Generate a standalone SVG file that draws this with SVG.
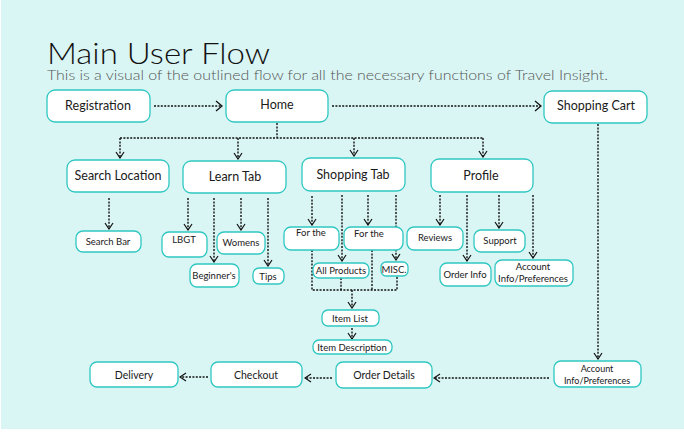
<svg xmlns="http://www.w3.org/2000/svg" width="684" height="432" viewBox="0 0 684 432">
<defs>
<style>
.n rect{fill:#fff;stroke:#2fc7c1;stroke-width:1.3}
.n text{font-family:Lato,"Noto Sans",sans-serif;fill:#1a1a1a;text-anchor:middle}
.b text{font-size:12.5px}
.s text{font-size:9.5px}
.c line,.c path{stroke:#111;stroke-width:1.4;stroke-dasharray:2 1.4;fill:none}
</style>
<marker id="ab" viewBox="0 0 8 12" markerWidth="8" markerHeight="12" refX="7" refY="6" orient="auto" markerUnits="userSpaceOnUse"><path d="M1,1 L7,6 L1,11" fill="none" stroke="#111" stroke-width="1.3"/></marker>
<marker id="as" viewBox="0 0 8 10" markerWidth="8" markerHeight="10" refX="7" refY="5" orient="auto" markerUnits="userSpaceOnUse"><path d="M1,1 L7,5 L1,9" fill="none" stroke="#111" stroke-width="1.2"/></marker>
</defs>
<rect x="0" y="0" width="684" height="432" fill="#fff"/>
<rect x="1" y="0" width="683" height="429" fill="#d9f5f4"/>
<text x="47" y="64" font-family="Lato,'Noto Sans',sans-serif" font-weight="300" font-size="29" fill="#111" textLength="223" lengthAdjust="spacingAndGlyphs">Main User Flow</text>
<text x="47" y="80" font-family="Lato,'Noto Sans',sans-serif" font-weight="300" font-size="13.5" fill="#555" textLength="561" lengthAdjust="spacingAndGlyphs">This is a visual of the outlined flow for all the necessary functions of Travel Insight.</text>

<g class="c">
<line x1="154" y1="106" x2="222" y2="106" marker-end="url(#ab)"/>
<line x1="332" y1="106" x2="541" y2="106" marker-end="url(#ab)"/>
<path d="M277,123 V138 M120,138 H483"/>
<line x1="120" y1="138" x2="120" y2="158" marker-end="url(#as)"/>
<line x1="238" y1="138" x2="238" y2="159" marker-end="url(#as)"/>
<line x1="354" y1="138" x2="354" y2="156" marker-end="url(#as)"/>
<line x1="483" y1="138" x2="483" y2="157" marker-end="url(#as)"/>
<line x1="109" y1="198" x2="109" y2="229" marker-end="url(#as)"/>
<line x1="188" y1="198" x2="188" y2="230" marker-end="url(#as)"/>
<line x1="214" y1="198" x2="214" y2="262" marker-end="url(#as)"/>
<line x1="241" y1="198" x2="241" y2="230" marker-end="url(#as)"/>
<line x1="268" y1="198" x2="268" y2="266" marker-end="url(#as)"/>
<line x1="312" y1="196" x2="312" y2="225" marker-end="url(#as)"/>
<line x1="342" y1="195" x2="342" y2="261" marker-end="url(#as)"/>
<line x1="368" y1="195" x2="368" y2="225" marker-end="url(#as)"/>
<line x1="396" y1="195" x2="396" y2="260" marker-end="url(#as)"/>
<path d="M312,250 V290 H397 V276 M341,278 V290 M372,250 V290"/>
<line x1="352" y1="290" x2="352" y2="308" marker-end="url(#as)"/>
<line x1="352" y1="328" x2="352" y2="339" marker-end="url(#as)"/>
<line x1="440" y1="195" x2="440" y2="225" marker-end="url(#as)"/>
<line x1="467" y1="195" x2="467" y2="261" marker-end="url(#as)"/>
<line x1="499" y1="195" x2="499" y2="228" marker-end="url(#as)"/>
<line x1="533" y1="195" x2="533" y2="258" marker-end="url(#as)"/>
<line x1="598" y1="124" x2="598" y2="359" marker-end="url(#as)"/>
<line x1="549" y1="378" x2="434" y2="378" marker-end="url(#as)"/>
<line x1="332" y1="378" x2="305" y2="378" marker-end="url(#as)"/>
<line x1="208" y1="377" x2="180" y2="377" marker-end="url(#as)"/>
</g>

<g id="registration" class="n b"><rect x="47" y="90" width="103" height="32" rx="8"/><text x="98" y="110" font-size="12">Registration</text></g>
<g id="home" class="n b"><rect x="226" y="90" width="102" height="32" rx="8"/><text x="277" y="109">Home</text></g>
<g id="shopping-cart" class="n b"><rect x="544" y="91" width="103" height="32" rx="8"/><text x="596" y="110">Shopping Cart</text></g>
<g id="search-location" class="n b"><rect x="67" y="160" width="102" height="32" rx="8"/><text x="118" y="180">Search Location</text></g>
<g id="learn-tab" class="n b"><rect x="183" y="161" width="103" height="32" rx="8"/><text x="235" y="181">Learn Tab</text></g>
<g id="shopping-tab" class="n b"><rect x="302" y="158" width="103" height="33" rx="8"/><text x="353" y="179">Shopping Tab</text></g>
<g id="profile" class="n b"><rect x="431" y="159" width="102" height="33" rx="8"/><text x="481" y="180">Profile</text></g>

<g id="search-bar" class="n s"><rect x="76" y="231" width="65" height="21" rx="7"/><text x="108" y="245">Search Bar</text></g>
<g id="lbgt" class="n s"><rect x="162" y="232" width="45" height="25" rx="7"/><text x="184" y="243">LBGT</text></g>
<g id="womens" class="n s"><rect x="217" y="232" width="48" height="22" rx="7"/><text x="241" y="246">Womens</text></g>
<g id="beginners" class="n s"><rect x="190" y="264" width="49" height="23" rx="7"/><text x="214" y="279">Beginner's</text></g>
<g id="tips" class="n s"><rect x="253" y="268" width="31" height="16" rx="6"/><text x="268" y="280">Tips</text></g>

<g id="for-the-1" class="n s"><rect x="284" y="227" width="55" height="23" rx="7"/><text x="311" y="236">For the</text></g>
<g id="for-the-2" class="n s"><rect x="344" y="227" width="59" height="23" rx="7"/><text x="369" y="237">For the</text></g>
<g id="all-products" class="n s"><rect x="313" y="263" width="56" height="15" rx="6"/><text x="341" y="274" font-size="9">All Products</text></g>
<g id="misc" class="n s"><rect x="381" y="262" width="27" height="14" rx="5"/><text x="394" y="273" font-size="8.5">MISC.</text></g>
<g id="item-list" class="n s"><rect x="322" y="310" width="57" height="16" rx="6"/><text x="350" y="321.5">Item List</text></g>
<g id="item-description" class="n s"><rect x="313" y="340" width="79" height="14" rx="6"/><text x="352" y="350.5" font-size="9">Item Description</text></g>

<g id="reviews" class="n s"><rect x="407" y="227" width="56" height="23" rx="7"/><text x="435" y="241">Reviews</text></g>
<g id="order-info" class="n s"><rect x="440" y="263" width="51" height="23" rx="7"/><text x="465" y="278">Order Info</text></g>
<g id="support" class="n s"><rect x="474" y="230" width="51" height="22" rx="7"/><text x="500" y="244">Support</text></g>
<g id="account-info-profile" class="n s"><rect x="495" y="260" width="78" height="26" rx="7"/><text x="533" y="270" font-size="9">Account</text><text x="533" y="282" font-size="9">Info/Preferences</text></g>

<g id="delivery" class="n"><rect x="90" y="362" width="88" height="25" rx="7"/><text x="134" y="378.5" font-size="10.5">Delivery</text></g>
<g id="checkout" class="n"><rect x="211" y="362" width="91" height="25" rx="7"/><text x="256" y="378.5" font-size="10.5">Checkout</text></g>
<g id="order-details" class="n"><rect x="336" y="362" width="96" height="26" rx="7"/><text x="384" y="378.5" font-size="10.5">Order Details</text></g>
<g id="account-info" class="n"><rect x="554" y="361" width="87" height="26" rx="7"/><text x="597" y="372" font-size="9">Account</text><text x="597" y="384" font-size="9">Info/Preferences</text></g>
</svg>
